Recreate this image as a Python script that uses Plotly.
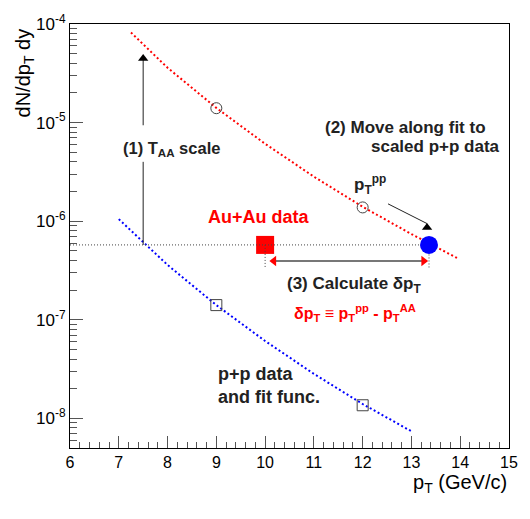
import plotly.graph_objects as go

# ---------------- data ----------------
pp_fit_x = [7.0, 8.0, 9.0, 10.0, 11.0, 12.0, 13.0]
pp_fit_y = [1.05e-6, 3.6e-7, 1.41e-7, 6.1e-8, 2.83e-8, 1.4e-8, 7.4e-9]
scaled_fit_x = [7.25, 8.0, 9.0, 10.0, 11.0, 12.0, 13.0, 13.95]
scaled_fit_y = [8.2e-5, 3.6e-5, 1.41e-5, 6.1e-6, 2.83e-6, 1.4e-6, 7.4e-7, 4.2e-7]
pp_data_x = [9.0, 12.0]
pp_data_y = [1.41e-7, 1.36e-8]
scaled_data_x = [9.0, 12.0]
scaled_data_y = [1.4e-5, 1.38e-6]
auau_pt = [10.0]
auau_yield = [5.75e-7]
pp_match_pt = [13.36]

x_ticks = [6, 7, 8, 9, 10, 11, 12, 13, 14, 15]
y_ticks = [1e-8, 1e-7, 1e-6, 1e-5, 1e-4]
y_ticktext = ["10<sup>-8</sup>", "10<sup>-7</sup>", "10<sup>-6</sup>",
              "10<sup>-5</sup>", "10<sup>-4</sup>"]
y_minor = [m * 10.0 ** e for e in range(-9, -4) for m in range(2, 10)]

# ---------------- layout helpers (pixel -> paper) ----------------
L, R, T, B = 70, 509, 17, 448
W, H = 530, 519


def px(x):
    return (x - L) / (R - L)


def py(y):
    return (B - y) / (B - T)


DARK = "#222222"
GREY = "#444444"
RED = "#ff0000"
BLUE = "#0000ff"
FONT = "Liberation Sans, Arial, sans-serif"

fig = go.Figure()

# fit functions
fig.add_trace(go.Scatter(x=pp_fit_x, y=pp_fit_y, mode="lines",
                         line=dict(color=BLUE, width=2, dash="2px,2.5px"),
                         hoverinfo="skip"))
fig.add_trace(go.Scatter(x=scaled_fit_x, y=scaled_fit_y, mode="lines",
                         line=dict(color=RED, width=2, dash="2px,2.5px"),
                         hoverinfo="skip"))

# (1) T_AA scale arrow (line broken around the label)
fig.add_trace(go.Scatter(x=[7.5, 7.5, None, 7.5, 7.5],
                         y=[auau_yield[0], 4.0e-6, None, 9.4e-6, 4.5e-5],
                         mode="lines", line=dict(color=DARK, width=1),
                         hoverinfo="skip"))
fig.add_trace(go.Scatter(x=[7.5], y=[4.48e-5], mode="markers",
                         marker=dict(symbol="triangle-up", size=9, color="black"),
                         hoverinfo="skip"))

# (2) arrow towards matching point
fig.add_trace(go.Scatter(x=[12.52, 13.32], y=[1.5e-6, 9.46e-7], mode="lines",
                         line=dict(color=DARK, width=1), hoverinfo="skip"))
fig.add_trace(go.Scatter(x=[13.32], y=[8.63e-7], mode="markers",
                         marker=dict(symbol="triangle-up", size=9, color="black"),
                         hoverinfo="skip"))

# (3) double arrow
fig.add_trace(go.Scatter(x=[10.18, 13.25], y=[3.95e-7, 3.95e-7], mode="lines",
                         line=dict(color="#777777", width=2), hoverinfo="skip"))
fig.add_trace(go.Scatter(x=[10.18], y=[3.95e-7], mode="markers",
                         marker=dict(symbol="triangle-left", size=9, color=RED),
                         hoverinfo="skip"))
fig.add_trace(go.Scatter(x=[13.25], y=[3.95e-7], mode="markers",
                         marker=dict(symbol="triangle-right", size=9, color=RED),
                         hoverinfo="skip"))

# data points
fig.add_trace(go.Scatter(x=scaled_data_x, y=scaled_data_y, mode="markers",
                         marker=dict(symbol="circle-open", size=11, color=GREY,
                                     line=dict(color=GREY, width=1)),
                         hoverinfo="skip"))
fig.add_trace(go.Scatter(x=pp_data_x, y=pp_data_y, mode="markers",
                         marker=dict(symbol="square-open", size=11, color=GREY,
                                     line=dict(color=GREY, width=1)),
                         hoverinfo="skip"))
fig.add_trace(go.Scatter(x=auau_pt, y=auau_yield, mode="markers",
                         marker=dict(symbol="square", size=18, color=RED),
                         hoverinfo="skip"))
fig.add_trace(go.Scatter(x=pp_match_pt, y=auau_yield, mode="markers",
                         marker=dict(symbol="circle", size=18, color=BLUE),
                         hoverinfo="skip"))

# dotted guide lines
fig.add_trace(go.Scatter(x=[6.0, 13.18], y=[auau_yield[0], auau_yield[0]],
                         mode="lines", line=dict(color=GREY, width=1, dash="1px,2px"),
                         hoverinfo="skip"))
fig.add_trace(go.Scatter(x=[10.0, 10.0, None, 13.36, 13.36],
                         y=[auau_yield[0], 3.37e-7, None, 4.6e-7, 3.37e-7],
                         mode="lines", line=dict(color=GREY, width=1, dash="1px,2px"),
                         hoverinfo="skip"))


def text(s, x, y, size, color=DARK, bold=True, xanchor="left", yanchor="middle", angle=0):
    fig.add_annotation(text=("<b>%s</b>" % s) if bold else s,
                       x=px(x), y=py(y), xref="paper", yref="paper",
                       xanchor=xanchor, yanchor=yanchor, showarrow=False,
                       textangle=angle,
                       font=dict(family=FONT, size=size, color=color))


text("(1) T<sub>AA</sub> scale", 121, 144, 16.5)
text("(2) Move along fit to", 323, 122, 17)
text("scaled p+p data", 369, 142, 17)
text("p<sub>T</sub><sup>pp</sup>", 352, 180, 17)
text("Au+Au data", 206, 213, 18, color=RED)
text("(3) Calculate δp<sub>T</sub>", 285, 282, 17)
text("δp<sub>T</sub> ≡ p<sub>T</sub><sup>pp</sup> - p<sub>T</sub><sup>AA</sup>", 292, 311, 16, color=RED)
text("p+p data", 216, 373, 18)
text("and fit func.", 216, 396, 18)

# axis titles
text("p<sub>T</sub> (GeV/c)", 509, 484, 20, color="black", bold=False, xanchor="right")
text("dN/dp<sub>T</sub> dy", 24, 20, 20, color="black", bold=False,
     xanchor="center", yanchor="top", angle=-90)

fig.update_layout(
    width=W, height=H,
    margin=dict(l=L, r=W - R, t=T, b=H - B),
    paper_bgcolor="white", plot_bgcolor="white",
    showlegend=False,
    font=dict(family=FONT, color="black"),
    xaxis=dict(range=[6, 15], tickvals=x_ticks, ticks="inside", ticklen=12,
               tickcolor="#555555", tickwidth=1,
               showline=True, linecolor="black", linewidth=1, mirror=True,
               showgrid=False, zeroline=False,
               tickfont=dict(size=16, family=FONT, color="black"),
               minor=dict(dtick=0.2, tick0=6, ticks="inside", ticklen=6,
                          tickcolor="#555555", tickwidth=1, showgrid=False)),
    yaxis=dict(type="log", range=[-8.3, -4.0], tickvals=y_ticks, ticktext=y_ticktext,
               ticks="inside", ticklen=13, tickcolor="#555555", tickwidth=1,
               showline=True, linecolor="black", linewidth=1, mirror=True,
               showgrid=False, zeroline=False,
               tickfont=dict(size=17, family=FONT, color="black"),
               minor=dict(tickvals=y_minor, ticks="inside", ticklen=7,
                          tickcolor="#555555", tickwidth=1, showgrid=False)),
)

fig.write_html("out.html")
